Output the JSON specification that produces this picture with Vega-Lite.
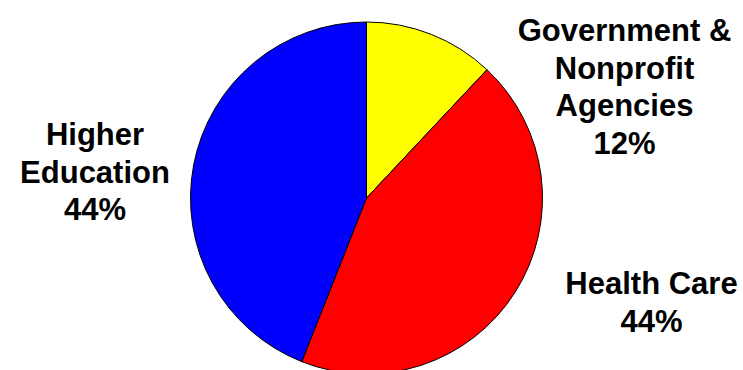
{
  "$schema": "https://vega.github.io/schema/vega-lite/v6.json",
  "width": 733,
  "height": 396,
  "autosize": {"type": "none"},
  "padding": {"left": 0, "top": 0, "right": 10, "bottom": 0},
  "background": "white",
  "config": {"view": {"stroke": null}},
  "data": {
    "values": [
      {"category": "Government & Nonprofit Agencies", "share": 12, "rank": 1, "label": "Government &\nNonprofit\nAgencies\n12%"},
      {"category": "Health Care", "share": 44, "rank": 2, "label": "Health Care\n44%"},
      {"category": "Higher Education", "share": 44, "rank": 3, "label": "Higher\nEducation\n44%"}
    ]
  },
  "layer": [
    {
      "mark": {"type": "arc", "outerRadius": 176, "stroke": "black", "strokeWidth": 1},
      "encoding": {
        "theta": {"field": "share", "type": "quantitative", "stack": true},
        "order": {"field": "rank", "type": "quantitative"},
        "color": {
          "field": "category",
          "type": "nominal",
          "scale": {
            "domain": ["Government & Nonprofit Agencies", "Health Care", "Higher Education"],
            "range": ["#FFFF00", "#FF0000", "#0000FF"]
          },
          "legend": null
        }
      }
    },
    {
      "transform": [{"filter": "datum.rank == 1"}],
      "mark": {"type": "text", "align": "center", "baseline": "alphabetic", "lineBreak": "\n", "font": "Liberation Sans", "fontWeight": "bold", "fontSize": 31, "lineHeight": 37.5, "color": "black", "dx": 258, "dy": -157},
      "encoding": {"text": {"field": "label"}}
    },
    {
      "transform": [{"filter": "datum.rank == 2"}],
      "mark": {"type": "text", "align": "center", "baseline": "alphabetic", "lineBreak": "\n", "font": "Liberation Sans", "fontWeight": "bold", "fontSize": 31, "lineHeight": 37.5, "color": "black", "dx": 285, "dy": 96},
      "encoding": {"text": {"field": "label"}}
    },
    {
      "transform": [{"filter": "datum.rank == 3"}],
      "mark": {"type": "text", "align": "center", "baseline": "alphabetic", "lineBreak": "\n", "font": "Liberation Sans", "fontWeight": "bold", "fontSize": 31, "lineHeight": 37.5, "color": "black", "dx": -271.5, "dy": -53},
      "encoding": {"text": {"field": "label"}}
    }
  ]
}
